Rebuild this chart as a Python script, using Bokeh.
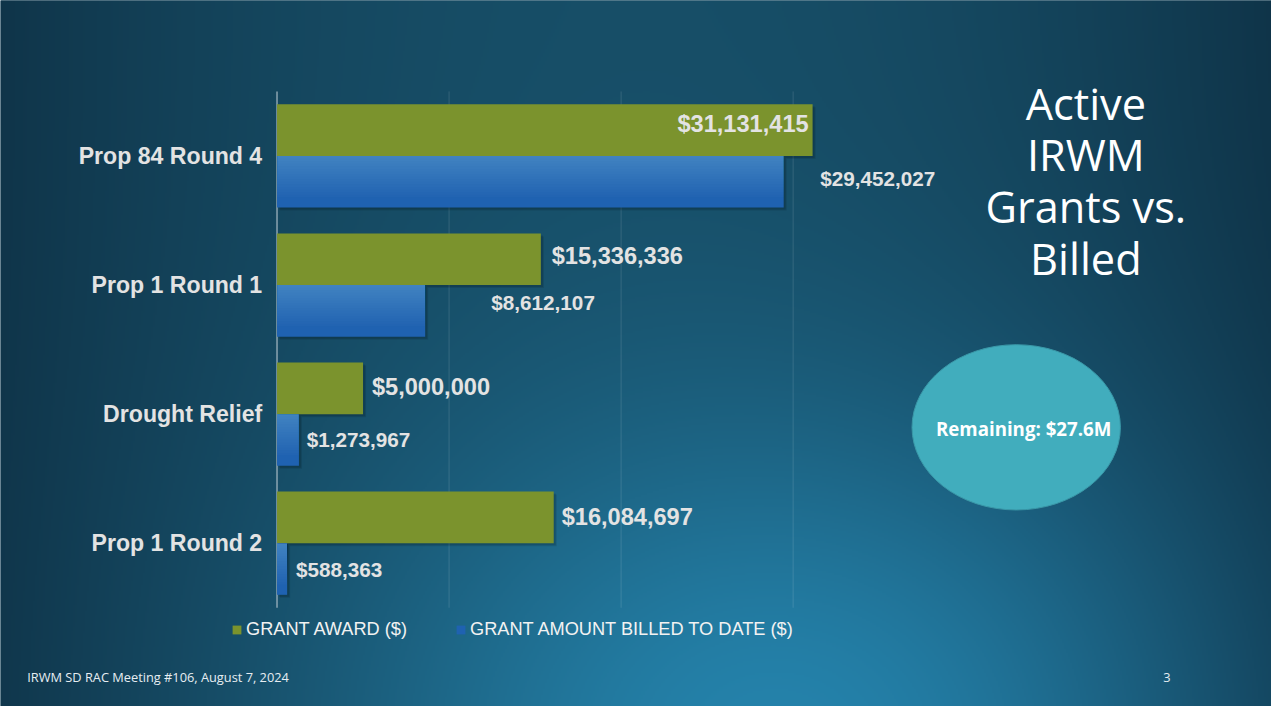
import numpy as np
from bokeh.plotting import figure
from bokeh.models import ColumnDataSource, Range1d, Legend, LegendItem
from bokeh.core.properties import value
from bokeh.embed import file_html
from bokeh.resources import INLINE

# ---------------- data ----------------
categories = ["Prop 84 Round 4", "Prop 1 Round 1", "Drought Relief", "Prop 1 Round 2"]
grant_award = [31131415, 15336336, 5000000, 16084697]
amount_billed = [29452027, 8612107, 1273967, 588363]
series_names = ["GRANT AWARD ($)", "GRANT AMOUNT BILLED TO DATE ($)"]
grid_ticks = [10000000, 20000000, 30000000]
title_lines = ["Active", "IRWM", "Grants vs.", "Billed"]
remaining_text = "Remaining: $27.6M"
footer_text = "IRWM SD RAC Meeting #106, August 7, 2024"
page_number = "3"

# ---------------- layout / style ----------------
W, H = 1271, 706
REF_W, REF_H = 1287, 722
SX, SY = W / REF_W, H / REF_H
FS = 0.985  # font scale


def cx(xr):  # slide px -> canvas px (x)
    return xr * SX


def cy(yr):  # slide px -> canvas px measured from bottom (y)
    return H - yr * SY


def fpx(size):
    return "%.1fpx" % (size * FS)


ZERO_PX = 280 * SX              # canvas px of value 0
PX_PER_DOLLAR = 17.42e-6 * SX
GROUP0_PX = 159 * SY            # canvas px (from top) of first category centre
PX_PER_GROUP = 132 * SY
BAR_H = 0.4

green_label_dx = [v * SX for v in [-4, 11, 9, 8]]
green_label_dy = [-6, -3, -1, 0]
green_label_align = ["right", "left", "left", "left"]
blue_label_dx = [v * SX for v in [37, 67, 8, 9]]
blue_label_dy = [-3, -8, 0, 0]

GREEN = "#7b932d"
BLUE = "#1f62b1"
LABEL_COL = "#e3e3e3"

x_range = Range1d(-ZERO_PX / PX_PER_DOLLAR, (W - ZERO_PX) / PX_PER_DOLLAR)
y_range = Range1d((H - GROUP0_PX) / PX_PER_GROUP, -GROUP0_PX / PX_PER_GROUP)

p = figure(width=W, height=H, x_range=x_range, y_range=y_range,
           x_axis_location=None, y_axis_location=None,
           toolbar_location=None, output_backend="svg", min_border=0,
           outline_line_color=None,
           background_fill_color="#14445c", border_fill_color="#14445c")
p.xgrid.visible = False
p.ygrid.visible = False
p.extra_x_ranges = {"px": Range1d(0, W)}
p.extra_y_ranges = {"px": Range1d(0, H)}

# ---------------- background gradient ----------------
S = 2
w2, h2 = W // S + 1, H // S + 1
xs = np.arange(w2) * S / SX
ys_bottom = np.arange(h2) * S
yr = (H - ys_bottom) / SY
X, Y = np.meshgrid(xs, yr)
edge = np.array([14, 48, 68], float)
mid = np.array([23, 78, 103], float)
glow = np.array([14, 54, 70], float)
hx = np.clip(1 - ((X - 640) / 700.0) ** 2, 0, 1)
g = np.exp(-((X - 820) ** 2) / (2 * 330 ** 2) - ((Y - 760) ** 2) / (2 * 240 ** 2))
rgb = edge[None, None, :] + (mid - edge)[None, None, :] * hx[..., None] + glow[None, None, :] * g[..., None]
rgb = np.clip(rgb, 0, 255).astype(np.uint8)
img = np.empty((h2, w2), dtype=np.uint32)
view = img.view(dtype=np.uint8).reshape((h2, w2, 4))
view[..., 0] = rgb[..., 0]
view[..., 1] = rgb[..., 1]
view[..., 2] = rgb[..., 2]
view[..., 3] = 255
p.image_rgba(image=[img], x=0, y=0, dw=w2 * S, dh=h2 * S,
             x_range_name="px", y_range_name="px")

# ---------------- chart ----------------
n = len(categories)
idx = np.arange(n, dtype=float)
src = ColumnDataSource(dict(
    cat=categories,
    award=grant_award,
    billed=amount_billed,
    yg=idx - BAR_H / 2,
    yb=idx + BAR_H / 2,
    award_txt=["${:,}".format(v) for v in grant_award],
    billed_txt=["${:,}".format(v) for v in amount_billed],
    gdx=green_label_dx, gdy=green_label_dy, galign=green_label_align,
    bdx=blue_label_dx, bdy=blue_label_dy,
))

# grid lines and axis line over the plot area
p.segment(x0=grid_ticks, y0=-0.5, x1=grid_ticks, y1=n - 0.5,
          line_color="white", line_alpha=0.13, line_width=1)
p.segment(x0=[0], y0=-0.5, x1=[0], y1=n - 0.5,
          line_color="#a9bcc6", line_alpha=0.8, line_width=1.5)

# soft shadows
for off, alpha in [(3.0, 0.10), (2.0, 0.12)]:
    sdx = off / PX_PER_DOLLAR
    sdy = off / PX_PER_GROUP
    p.hbar(y=idx - BAR_H / 2 + sdy, left=sdx, right=np.array(grant_award) + sdx,
           height=BAR_H, fill_color="black", fill_alpha=alpha, line_color=None)
    p.hbar(y=idx + BAR_H / 2 + sdy, left=sdx, right=np.array(amount_billed) + sdx,
           height=BAR_H, fill_color="black", fill_alpha=alpha, line_color=None)

green_r = p.hbar(y="yg", left=0, right="award", height=BAR_H, source=src,
                 fill_color=GREEN, line_color=None)
blue_r = p.hbar(y="yb", left=0, right="billed", height=BAR_H, source=src,
                fill_color=BLUE, line_color=None)
# light sheen at the top of the blue bars (vertical gradient)
for k in range(16):
    f = 0.8 - k * 0.05
    p.hbar(y=idx + f * BAR_H / 2, left=0, right=amount_billed, height=f * BAR_H,
           fill_color="#8fb4e6", fill_alpha=0.032, line_color=None)

# category labels
p.text(x=0, y=idx, text=categories, x_offset=-15 * SX, text_align="right",
       text_baseline="middle", text_font=value("Liberation Sans"),
       text_font_style="bold", text_font_size=fpx(23.5), text_color=LABEL_COL)

# value labels
p.text(x="award", y="yg", text="award_txt", x_offset="gdx", y_offset="gdy",
       text_align="galign", text_baseline="middle", source=src,
       text_font=value("Liberation Sans"), text_font_style="bold",
       text_font_size=fpx(24), text_color=LABEL_COL)
p.text(x="billed", y="yb", text="billed_txt", x_offset="bdx", y_offset="bdy",
       text_align="left", text_baseline="middle", source=src,
       text_font=value("Liberation Sans"), text_font_style="bold",
       text_font_size=fpx(21), text_color=LABEL_COL)

# legend
legend = Legend(items=[LegendItem(label=series_names[0], renderers=[green_r]),
                       LegendItem(label=series_names[1], renderers=[blue_r])],
                orientation="horizontal", location=(231, 66),
                glyph_width=11, glyph_height=11, label_standoff=4, spacing=48,
                padding=0, margin=0, border_line_color=None,
                background_fill_alpha=0,
                label_text_font="Liberation Sans", label_text_font_size=fpx(18.5),
                label_text_color="#f2f2f2")
p.add_layout(legend)

# ---------------- slide decorations ----------------
p.text(x=[cx(1099)] * len(title_lines),
       y=[cy(105 + 53 * k) for k in range(len(title_lines))],
       text=title_lines, text_align="center", text_baseline="middle",
       text_font=value("Open Sans"), text_font_size=fpx(44), text_color="white",
       x_range_name="px", y_range_name="px")

p.ellipse(x=[cx(1028.5)], y=[cy(436.5)], width=211 * SX, height=169 * SY,
          fill_color="#41adbd", line_color="#3a98a8", line_width=1,
          x_range_name="px", y_range_name="px")
p.text(x=[cx(1036)], y=[cy(438)], text=[remaining_text], text_align="center",
       text_baseline="middle", text_font=value("Open Sans"), text_font_style="bold",
       text_font_size=fpx(19), text_color="white",
       x_range_name="px", y_range_name="px")

p.text(x=[cx(27)], y=[cy(692)], text=[footer_text], text_align="left",
       text_baseline="middle", text_font=value("Open Sans"),
       text_font_size=fpx(13), text_color="#e6edf2",
       x_range_name="px", y_range_name="px")
p.text(x=[cx(1181)], y=[cy(692)], text=[page_number], text_align="center",
       text_baseline="middle", text_font=value("Open Sans"),
       text_font_size=fpx(13), text_color="#e6edf2",
       x_range_name="px", y_range_name="px")

open("out.html", "w").write(file_html(p, INLINE))
